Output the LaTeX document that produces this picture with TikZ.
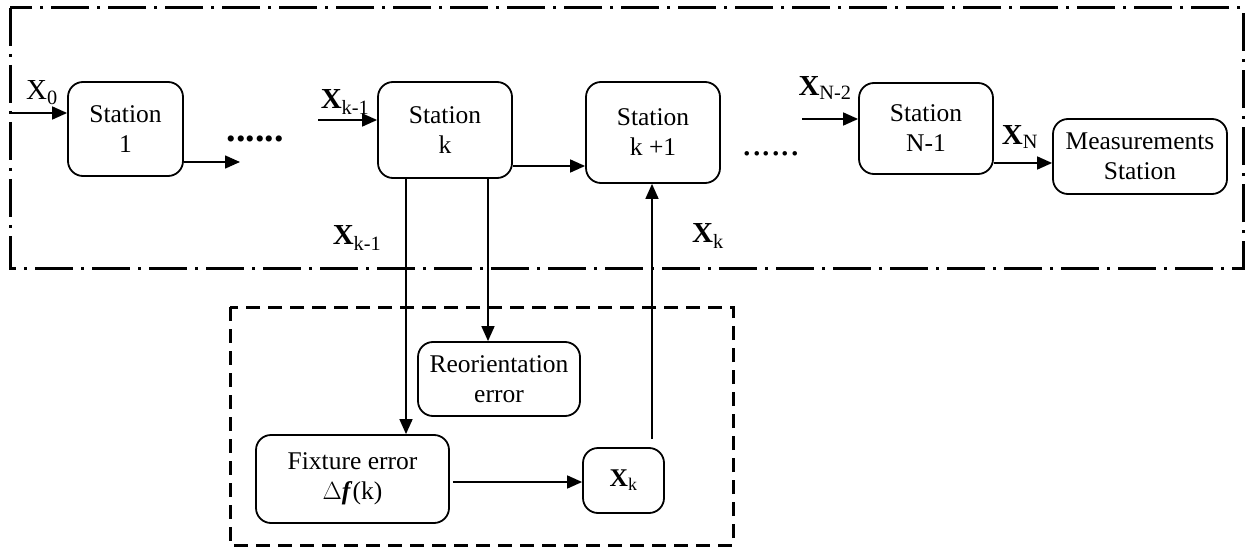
\documentclass[tikz,border=0pt]{standalone}
\usepackage{fontspec}
\setmainfont{Liberation Serif}
\usetikzlibrary{arrows.meta,calc}
\begin{document}
\begin{tikzpicture}[x=1pt,y=-1pt,
  box/.style={draw,line width=1.8pt,rounded corners=15pt,align=center,inner sep=0pt,
     font=\fontsize{25.5}{30}\selectfont},
  lbl/.style={inner sep=0pt,font=\fontsize{29}{32}\selectfont},
  arr/.style={line width=1.6pt,-{Triangle[length=15pt,width=13pt]}},
  dotsty/.style={inner sep=0pt,font=\fontsize{38}{40}\selectfont}]
\useasboundingbox (0,0) rectangle (1249,548);
% frames
\draw[line width=3pt,dash pattern=on 38pt off 8pt on 3pt off 8pt] (10,8) rectangle (1243,268);
\draw[line width=3pt,dash pattern=on 14pt off 8pt] (230,307) rectangle (733,545);
% boxes
\node[box,minimum width=115pt,minimum height=94pt] (s1) at (125.5,129) {Station\\1};
\node[box,minimum width=134pt,minimum height=96pt] (sk) at (445,130) {Station\\k};
\node[box,minimum width=134pt,minimum height=101pt] (sk1) at (653,132.5) {Station\\k +1};
\node[box,minimum width=134pt,minimum height=91pt] (sn) at (926,128.5) {Station\\N-1};
\node[box,minimum width=174pt,minimum height=75pt] (ms) at (1140,156.5) {Measurements\\Station};
\node[box,minimum width=162pt,minimum height=74pt] (reo) at (499,379) {Reorientation\\error};
\node[box,minimum width=193pt,minimum height=88pt] (fix) at (352.5,479) {Fixture error\\$\Delta$\textbf{\textit{f}}(k)};
\node[box,minimum width=81pt,minimum height=65pt] (xk) at (623.5,480.5) {\textbf{X}\textsubscript{k}};
% dots
\node[dotsty,anchor=base] (d1) at (255,142) {\textbf{......}};
\node[dotsty,anchor=base] (d2) at (771,156) {......};
% labels
\node[lbl] (l0) at (42,93) {X\textsubscript{0}};
\node[lbl] (l1) at (345,102) {\textbf{X}\textsubscript{k-1}};
\node[lbl] (l2) at (357,238) {\textbf{X}\textsubscript{k-1}};
\node[lbl] (l3) at (708,236) {\textbf{X}\textsubscript{k}};
\node[lbl] (l4) at (825,88) {\textbf{X}\textsubscript{N-2}};
\node[lbl] (l5) at (1020,137) {\textbf{X}\textsubscript{N}};
% coordinates
\coordinate (x0s) at (10,113);
\coordinate (s1o) at (240,162);
\coordinate (kin) at (318,120);
\coordinate (kk) at (0,166);
\coordinate (c1) at (406,0);
\coordinate (c2) at (488,0);
\coordinate (c3) at (652,0);
\coordinate (c4) at (0,482);
\coordinate (nin) at (802,119);
\coordinate (nm) at (0,163);
% connectors
\draw[arr] (x0s) -- (s1.west |- x0s);
\draw[arr] (s1.east |- s1o) -- (s1o);
\draw[arr] (kin) -- (sk.west |- kin);
\draw[arr] (sk.east |- kk) -- (sk1.west |- kk);
\draw[arr] (sk.south -| c1) -- (fix.north -| c1);
\draw[arr] (sk.south -| c2) -- (reo.north -| c2);
\draw[arr] ([yshift=8pt]xk.north -| c3) -- (sk1.south -| c3);
\draw[arr] ([xshift=3pt]fix.east |- c4) -- (xk.west |- c4);
\draw[arr] (nin) -- (sn.west |- nin);
\draw[arr] (sn.east |- nm) -- (ms.west |- nm);
\end{tikzpicture}
\end{document}
